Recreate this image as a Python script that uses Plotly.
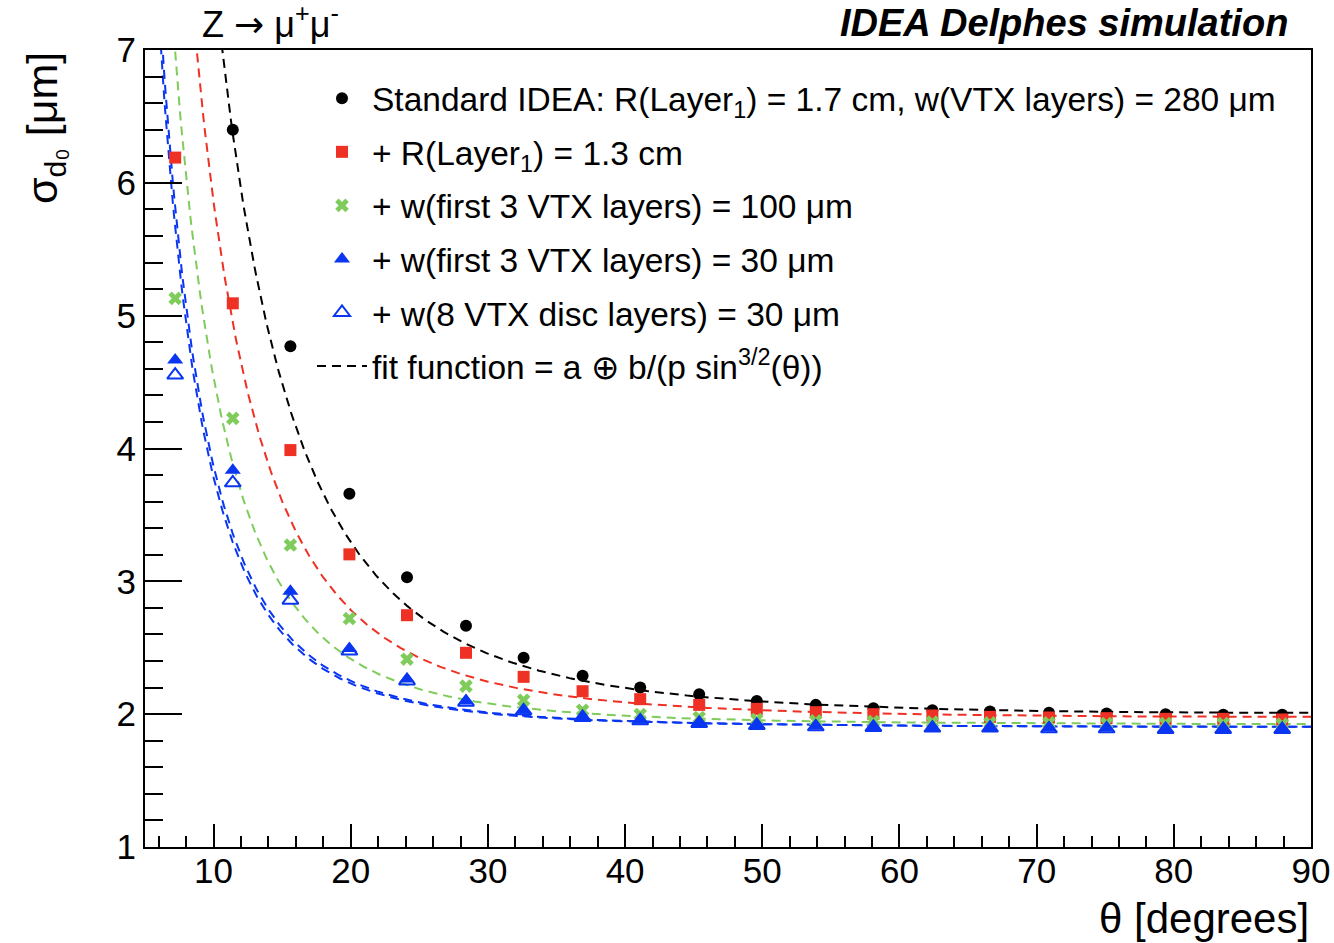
import numpy as np
import plotly.graph_objects as go

# ---------------- data ----------------
theta = [7.2, 11.4, 15.6, 19.9, 24.1, 28.4, 32.6, 36.9, 41.1, 45.4,
         49.6, 53.9, 58.1, 62.4, 66.6, 70.9, 75.1, 79.4, 83.6, 87.9]

sigma_standard = [None, 6.40, 4.77, 3.66, 3.03, 2.665, 2.424, 2.289, 2.201, 2.15,
                  2.10, 2.07, 2.045, 2.03, 2.02, 2.01, 2.005, 2.0, 1.995, 1.995]
sigma_r13 = [6.19, 5.093, 3.988, 3.203, 2.745, 2.462, 2.281, 2.173, 2.113, 2.07,
             2.04, 2.015, 2.0, 1.99, 1.98, 1.975, 1.97, 1.965, 1.965, 1.96]
sigma_w100 = [5.13, 4.227, 3.273, 2.72, 2.414, 2.211, 2.105, 2.03, 1.998, 1.975,
              1.96, 1.95, 1.945, 1.94, 1.935, 1.935, 1.93, 1.93, 1.93, 1.925]
sigma_w30 = [4.666, 3.837, 2.926, 2.495, 2.264, 2.10, 2.03, 1.98, 1.955, 1.935,
             1.92, 1.91, 1.905, 1.90, 1.90, 1.895, 1.895, 1.89, 1.89, 1.89]
sigma_disc30 = [4.553, 3.742, 2.858, 2.475, 2.25, 2.09, 2.025, 1.975, 1.95, 1.93,
                1.915, 1.905, 1.90, 1.895, 1.895, 1.89, 1.89, 1.885, 1.885, 1.885]

# fit parameters: sigma = a (+) b/(p sin^{3/2}(theta))
fit_a = [1.938, 1.939, 1.902, 1.890, 1.890]
fit_b_over_p = [0.533, 0.3998, 0.2977, 0.244, 0.237]

series_names = [
    "Standard IDEA: R(Layer<sub>1</sub>) = 1.7 cm, w(VTX layers) = 280 μm",
    "+ R(Layer<sub>1</sub>) = 1.3 cm",
    "+ w(first 3 VTX layers) = 100 μm",
    "+ w(first 3 VTX layers) = 30 μm",
    "+ w(8 VTX disc layers) = 30 μm",
]
fit_name = "fit function = a ⊕ b/(p sin<sup>3/2</sup>(θ))"

colors = ["#000000", "#ee3124", "#7fcc5c", "#0a36f2", "#0a36f2"]
symbols = ["circle", "square", "x", "triangle-up", "triangle-up-open"]
sizes = [12, 12, 12, 14, 14]

all_sigma = [sigma_standard, sigma_r13, sigma_w100, sigma_w30, sigma_disc30]

FONT = "Liberation Sans, Arial, Helvetica, sans-serif"

fig = go.Figure()

# fit curves
th_fit = np.linspace(5.0, 90.0, 800)
for i in range(5):
    s15 = np.sin(np.radians(th_fit)) ** 1.5
    yfit = np.sqrt(fit_a[i] ** 2 + (fit_b_over_p[i] / s15) ** 2)
    fig.add_trace(go.Scatter(
        x=th_fit, y=yfit, mode="lines",
        line=dict(color=colors[i], width=2, dash="9px,6px"),
        name=fit_name if i == 0 else "fit",
        showlegend=(i == 0),
        legendgroup="fit", legendrank=100,
        hoverinfo="skip",
    ))

# markers
for i in range(5):
    mk = dict(color=colors[i], symbol=symbols[i], size=sizes[i])
    if symbols[i].endswith("open"):
        mk["line"] = dict(color=colors[i], width=2)
    else:
        mk["line"] = dict(width=0)
    fig.add_trace(go.Scatter(
        x=theta, y=all_sigma[i], mode="markers", marker=mk,
        name=series_names[i], legendgroup=f"g{i}", legendrank=i + 1,
    ))

fig.update_layout(
    width=1334, height=943,
    margin=dict(l=145, r=23, t=50, b=96, autoexpand=False),
    paper_bgcolor="white", plot_bgcolor="white",
    font=dict(family=FONT, color="black", size=35),
    showlegend=True,
    legend=dict(
        x=(312 - 145) / 1166, y=1 - (70 - 50) / 797,
        xanchor="left", yanchor="top",
        bgcolor="rgba(0,0,0,0)", borderwidth=0,
        font=dict(family=FONT, size=33.5, color="black"),
        tracegroupgap=7, itemwidth=50,
    ),
)

fig.update_xaxes(
    range=[5, 90], dtick=10, tick0=0,
    showline=True, linecolor="black", linewidth=2, mirror=True,
    ticks="inside", ticklen=23, tickwidth=2, tickcolor="black",
    minor=dict(dtick=2, tick0=0, ticks="inside", ticklen=11, tickwidth=2, tickcolor="black"),
    showgrid=False, zeroline=False, automargin=False,
    tickfont=dict(family=FONT, size=35), ticklabelstandoff=-8,
)
fig.update_yaxes(
    range=[1, 7], dtick=1, tick0=0,
    showline=True, linecolor="black", linewidth=2, mirror=True,
    ticks="inside", ticklen=37, tickwidth=2, tickcolor="black",
    minor=dict(dtick=0.2, tick0=0, ticks="inside", ticklen=18, tickwidth=2, tickcolor="black"),
    showgrid=False, zeroline=False, automargin=False,
    tickfont=dict(family=FONT, size=35),
)

# axis titles and labels as annotations
fig.add_annotation(
    text="θ [degrees]", xref="paper", yref="paper",
    x=1.0, y=-(918 - 847) / 797, xanchor="right", yanchor="middle",
    showarrow=False, font=dict(family=FONT, size=42),
)
fig.add_annotation(
    text="σ<sub>d₀</sub> [μm]", xref="paper", yref="paper",
    x=-(145 - 45) / 1166, y=1.0, xanchor="center", yanchor="top",
    textangle=-90, showarrow=False, font=dict(family=FONT, size=43),
)
fig.add_annotation(
    text="Z <span style=\"font-family:DejaVu Sans\">→</span> μ<sup>+</sup>μ<sup>-</sup>",
    xref="paper", yref="paper",
    x=(200 - 145) / 1166, y=1 + (50 - 22) / 797, xanchor="left", yanchor="middle",
    showarrow=False, font=dict(family=FONT, size=36),
)
fig.add_annotation(
    text="<b><i>IDEA Delphes simulation</i></b>", xref="paper", yref="paper",
    x=(1290 - 145) / 1166, y=1 + (50 - 23) / 797, xanchor="right", yanchor="middle",
    showarrow=False, font=dict(family=FONT, size=38),
)

fig.write_html("out.html")
